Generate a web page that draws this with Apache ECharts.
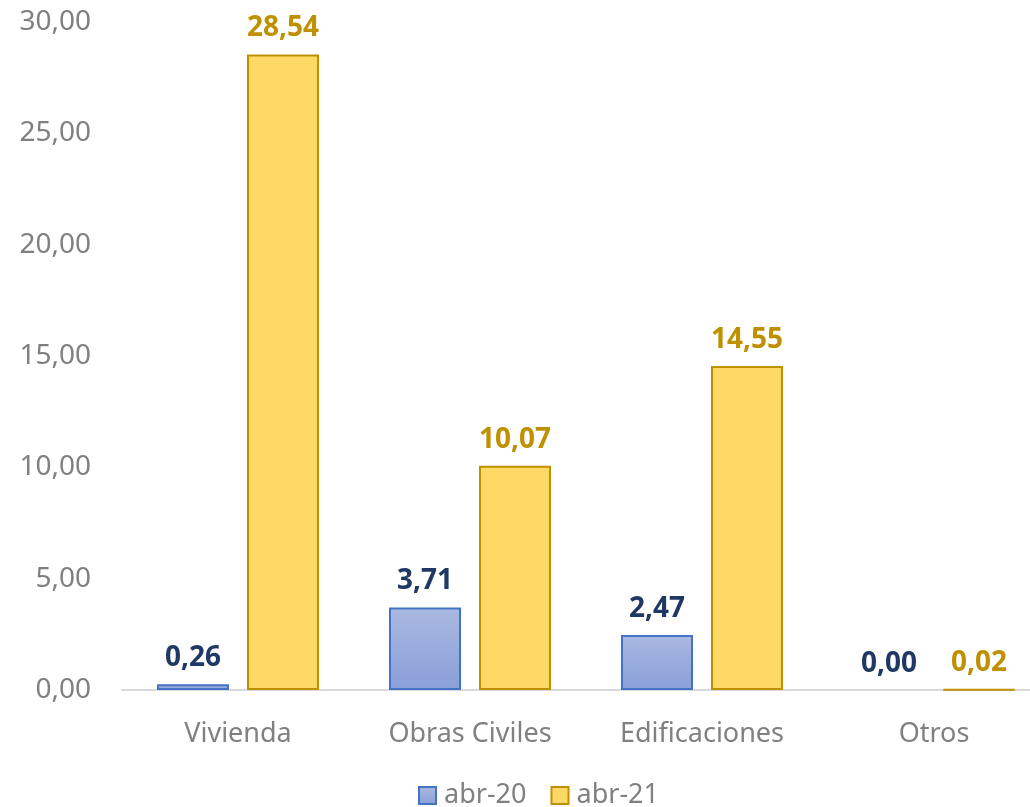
<!DOCTYPE html>
<html>
<head>
<meta charset="utf-8">
<script src="https://cdn.jsdelivr.net/npm/echarts@6/dist/echarts.min.js"></script>
<style>
  html, body { margin: 0; padding: 0; background: #fff; }
  #chart { width: 1030px; height: 807px; }
</style>
</head>
<body>
<div id="chart"></div>
<script>
const categories = ['Vivienda', 'Obras Civiles', 'Edificaciones', 'Otros'];
const abr20 = [0.26, 3.71, 2.47, 0.00];
const abr21 = [28.54, 10.07, 14.55, 0.02];

const font = '"Noto Sans", sans-serif';
const fmt = v => v.toFixed(2).replace('.', ',');

// zero-height bars get no outline, like the original
const toData = arr => arr.map(v => v === 0 ? { value: v, itemStyle: { borderWidth: 0 } } : v);

const chart = echarts.init(document.getElementById('chart'));

chart.setOption({
    animation: false,
    grid: { left: 122, right: -20, top: 22, bottom: 117, outerBoundsMode: 'none', containLabel: false },
    legend: {
        left: 418,
        top: 782,
        padding: 0,
        icon: 'rect',
        itemWidth: 17,
        itemHeight: 17,
        itemGap: 24,
        textStyle: { fontSize: 27, color: '#808080', fontFamily: font, padding: [0, 0, 0, 3] },
        data: ['abr-20', 'abr-21']
    },
    xAxis: {
        type: 'category',
        data: categories,
        axisTick: { show: false },
        axisLine: { lineStyle: { color: '#D9D9D9', width: 2 } },
        axisLabel: { fontSize: 27, color: '#808080', fontFamily: font, margin: 31 }
    },
    yAxis: {
        type: 'value',
        min: 0,
        max: 30,
        interval: 5,
        splitLine: { show: false },
        axisLabel: {
            fontSize: 28, color: '#808080', fontFamily: font, margin: 31,
            formatter: v => fmt(v)
        }
    },
    series: [
        {
            name: 'abr-20',
            type: 'bar',
            data: toData(abr20),
            barWidth: 72,
            barGap: '25%',
            itemStyle: {
                color: new echarts.graphic.LinearGradient(0, 0, 0, 1, [
                    { offset: 0, color: '#AAB9E1' },
                    { offset: 1, color: '#8A9FD9' }
                ]),
                borderColor: '#4472C4',
                borderWidth: 2
            },
            label: {
                show: true, position: 'top', distance: 12,
                fontSize: 28, fontWeight: 'bold', color: '#1F3864', fontFamily: font,
                formatter: p => fmt(p.value)
            }
        },
        {
            name: 'abr-21',
            type: 'bar',
            data: toData(abr21),
            barWidth: 72,
            itemStyle: {
                color: '#FFD966',
                borderColor: '#BF9000',
                borderWidth: 2
            },
            label: {
                show: true, position: 'top', distance: 12,
                fontSize: 28, fontWeight: 'bold', color: '#BF9000', fontFamily: font,
                formatter: p => fmt(p.value)
            }
        }
    ]
});
</script>
</body>
</html>
